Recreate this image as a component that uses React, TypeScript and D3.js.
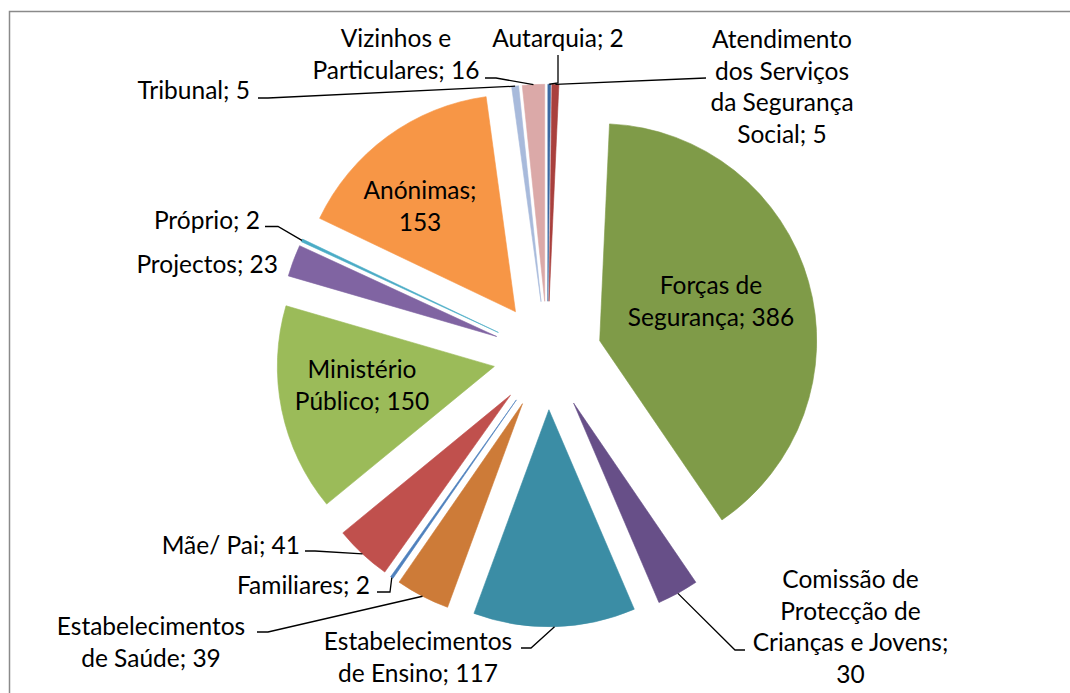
import React from "react";
import * as d3 from "d3";

// ---- data (clockwise from 12 o'clock) ----
const categories = [
  "Autarquia",
  "Atendimento dos Serviços da Segurança Social",
  "Forças de Segurança",
  "Comissão de Protecção de Crianças e Jovens",
  "Estabelecimentos de Ensino",
  "Estabelecimentos de Saúde",
  "Familiares",
  "Mãe/ Pai",
  "Ministério Público",
  "Projectos",
  "Próprio",
  "Anónimas",
  "Tribunal",
  "Vizinhos e Particulares",
];
const values = [2, 5, 386, 30, 117, 39, 2, 41, 150, 23, 2, 153, 5, 16];
const colors = [
  "#3d6aa2", "#a9403d", "#7f9b48", "#674f88", "#3b8da5", "#cd7b38", "#4f81bd",
  "#c0504d", "#9bbb59", "#8064a2", "#4bacc6", "#f79646", "#a8badb", "#dba9a8",
];
// words per label line ("name; value" split into lines)
const lineWords = [[2], [1, 2, 2, 2], [2, 2], [2, 2, 3, 1], [1, 3], [1, 3], [2], [3], [1, 2], [2], [2], [1, 1], [2], [2, 2]];

// ---- layout (label anchors and leader elbows) ----
type Lay = { x: number; y: number; anchor: string; leader?: [number, number][] };
const layout: Lay[] = [
  { x: 558, y: 47, anchor: "middle", leader: [[558, 55], [558, 83]] },
  { x: 782, y: 48, anchor: "middle", leader: [[706, 78]] },
  { x: 711, y: 294, anchor: "middle" },
  { x: 850.5, y: 588, anchor: "middle", leader: [[745, 650], [735, 650]] },
  { x: 418, y: 650, anchor: "middle", leader: [[521, 648], [531, 648]] },
  { x: 151, y: 635, anchor: "middle", leader: [[257, 632], [268, 632]] },
  { x: 370, y: 594, anchor: "end", leader: [[377, 592], [390, 592]] },
  { x: 300, y: 554, anchor: "end", leader: [[305, 551], [315, 551]] },
  { x: 362, y: 378, anchor: "middle" },
  { x: 278, y: 273, anchor: "end" },
  { x: 260, y: 229, anchor: "end", leader: [[265, 226.5], [278, 226.5]] },
  { x: 420, y: 199, anchor: "middle" },
  { x: 250, y: 99, anchor: "end", leader: [[258, 98], [268, 98]] },
  { x: 396, y: 47, anchor: "middle", leader: [[485, 78], [496, 78]] },
];

const W = 1070;
const H = 693;
const cx = 547.5;
const cy = 355.5;
const R = 217;
const EXPLODE = 0.25 * R;
const FONT = 24.5;
const LINE = 31.5;

export default function App() {
  const pie = d3.pie<number>().sort(null).value((d) => d)(values);
  const arc = d3.arc<d3.PieArcDatum<number>>().innerRadius(0).outerRadius(R);

  const slices = pie.map((p, i) => {
    const mid = (p.startAngle + p.endAngle) / 2;
    const dx = Math.sin(mid) * EXPLODE;
    const dy = -Math.cos(mid) * EXPLODE;
    const edge: [number, number] = [cx + Math.sin(mid) * (R + EXPLODE), cy - Math.cos(mid) * (R + EXPLODE)];
    return { p, i, dx, dy, edge };
  });

  const labelLines = (i: number) => {
    const words = `${categories[i]}; ${values[i]}`.split(" ");
    const out: string[] = [];
    let k = 0;
    for (const n of lineWords[i]) {
      out.push(words.slice(k, k + n).join(" "));
      k += n;
    }
    return out;
  };

  const line = d3.line();

  return (
    <div style={{ position: "absolute", left: 0, top: 0 }}>
      <svg width={W} height={H} style={{ display: "block", background: "#fff" }}>
        <rect x={9.5} y={11.5} width={1100} height={720} fill="#fff" stroke="#8a8a8a" strokeWidth={1.5} />
        <g>
          {slices.map(({ p, i, dx, dy }) => (
            <path
              key={i}
              d={arc(p) || ""}
              transform={`translate(${cx + dx},${cy + dy})`}
              fill={colors[i]}
              stroke={colors[i]}
              strokeWidth={0.6}
            />
          ))}
        </g>
        <g fill="none" stroke="#000" strokeWidth={1.3}>
          {slices.map(({ i, edge }) => {
            const L = layout[i];
            if (!L.leader) return null;
            const pts = [...L.leader, edge] as [number, number][];
            return <path key={i} d={line(pts) || ""} />;
          })}
        </g>
        <g fontFamily="Lato, 'Open Sans', sans-serif" fontSize={FONT} fill="#000">
          {slices.map(({ i }) => {
            const L = layout[i];
            return (
              <text key={i} x={L.x} y={L.y} textAnchor={L.anchor}>
                {labelLines(i).map((t, j) => (
                  <tspan key={j} x={L.x} y={L.y + j * LINE}>
                    {t}
                  </tspan>
                ))}
              </text>
            );
          })}
        </g>
      </svg>
    </div>
  );
}
